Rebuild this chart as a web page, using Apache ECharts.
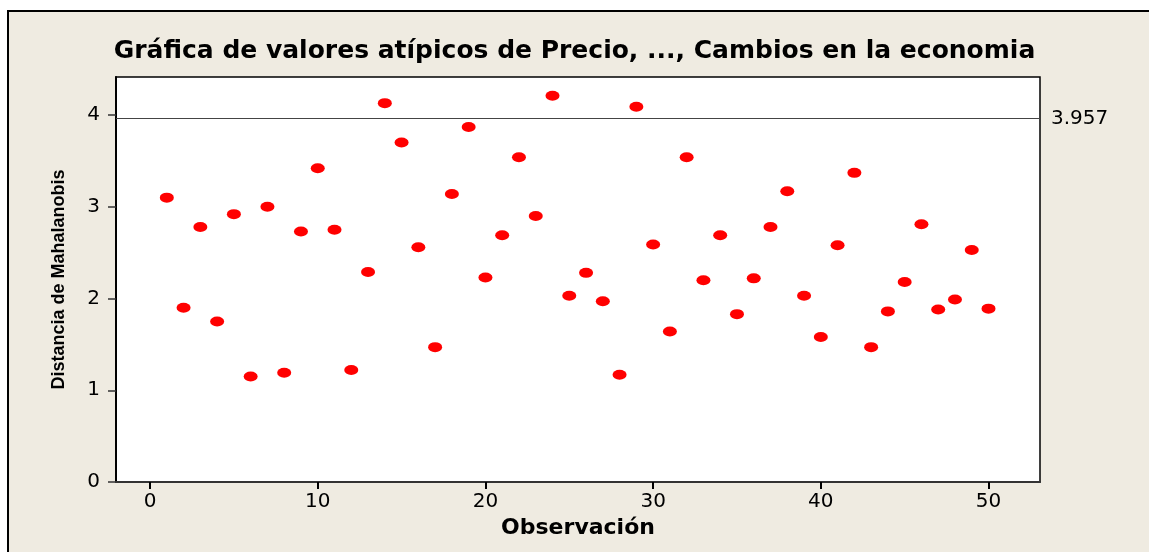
<!DOCTYPE html>
<html>
<head>
<meta charset="utf-8">
<script src="https://cdn.jsdelivr.net/npm/echarts@6/dist/echarts.min.js"></script>
<style>
html,body{margin:0;padding:0;background:#ffffff;}
#main{width:1149px;height:552px;}
</style>
</head>
<body>
<div id="main"></div>
<script>
// Data
const observations = [1,2,3,4,5,6,7,8,9,10,11,12,13,14,15,16,17,18,19,20,21,22,23,24,25,26,27,28,29,30,31,32,33,34,35,36,37,38,39,40,41,42,43,44,45,46,47,48,49,50];
const distances = [3.10,1.90,2.78,1.75,2.92,1.15,3.00,1.19,2.73,3.42,2.75,1.22,2.29,4.13,3.70,2.56,1.47,3.14,3.87,2.23,
                   2.69,3.54,2.90,4.21,2.03,2.28,1.97,1.17,4.09,2.59,1.64,3.54,2.20,2.69,1.83,2.22,2.78,3.17,2.03,1.58,
                   2.58,3.37,1.47,1.86,2.18,2.81,1.88,1.99,2.53,1.89];
const xTicks = [0,10,20,30,40,50];
const yTicks = [0,1,2,3,4];
const referenceValue = 3.957;
const titleText = 'Gráfica de valores atípicos de Precio, ..., Cambios en la economia';
const xName = 'Observación';
const yName = 'Distancia de Mahalanobis';

const chart = echarts.init(document.getElementById('main'), null, {renderer:'canvas'});
const points = observations.map((o,i)=>[o, distances[i]]);
const mainFont = '"DejaVu Sans", Verdana, sans-serif';

chart.setOption({
  animation:false,
  backgroundColor:'#ffffff',
  graphic:[
    {type:'rect', z:-10, shape:{x:8, y:11, width:1160, height:560},
     style:{fill:'#EFEBE1', stroke:'#000000', lineWidth:2}}
  ],
  title:{
    text:titleText, left:'center', top:34,
    textStyle:{fontFamily:mainFont, fontWeight:'bold', fontSize:25, color:'#000'}
  },
  grid:{left:116, right:109, top:77, bottom:70, show:true, backgroundColor:'#ffffff', borderColor:'#000000', borderWidth:1.5},
  xAxis:{
    type:'value', min:-2.03, max:53.07,
    name:xName, nameLocation:'middle', nameGap:28,
    nameTextStyle:{fontFamily:mainFont, fontWeight:'bold', fontSize:22, color:'#000'},
    axisLine:{show:true, onZero:false, lineStyle:{color:'#333', width:2}},
    axisTick:{show:true, inside:false, length:7, customValues:xTicks, lineStyle:{color:'#000', width:2}},
    axisLabel:{customValues:xTicks, margin:10, fontFamily:mainFont, fontSize:20, color:'#000'},
    splitLine:{show:false}
  },
  yAxis:{
    type:'value', min:0, max:4.415,
    name:yName, nameLocation:'middle', nameGap:48, nameRotate:90,
    nameTextStyle:{fontFamily:'"Liberation Sans Narrow", "Liberation Sans", Arial, sans-serif', fontWeight:'bold', fontSize:18, color:'#000'},
    axisLine:{show:true, onZero:false, lineStyle:{color:'#000', width:2}},
    axisTick:{show:true, inside:false, length:8, customValues:yTicks, lineStyle:{color:'#333', width:1.5}},
    axisLabel:{customValues:yTicks, margin:16, fontFamily:mainFont, fontSize:20, color:'#000'},
    splitLine:{show:false}
  },
  series:[{
    type:'scatter',
    data:points,
    symbol:'circle',
    symbolSize:[14,10],
    itemStyle:{color:'#FF0000', opacity:1},
    markLine:{
      silent:true, symbol:['none','none'],
      lineStyle:{color:'#444', width:1.2, type:'solid'},
      label:{show:true, position:'end', distance:11, formatter:String(referenceValue),
             fontFamily:mainFont, fontSize:20, color:'#000'},
      data:[{yAxis:referenceValue}]
    }
  }]
});
</script>
</body>
</html>
